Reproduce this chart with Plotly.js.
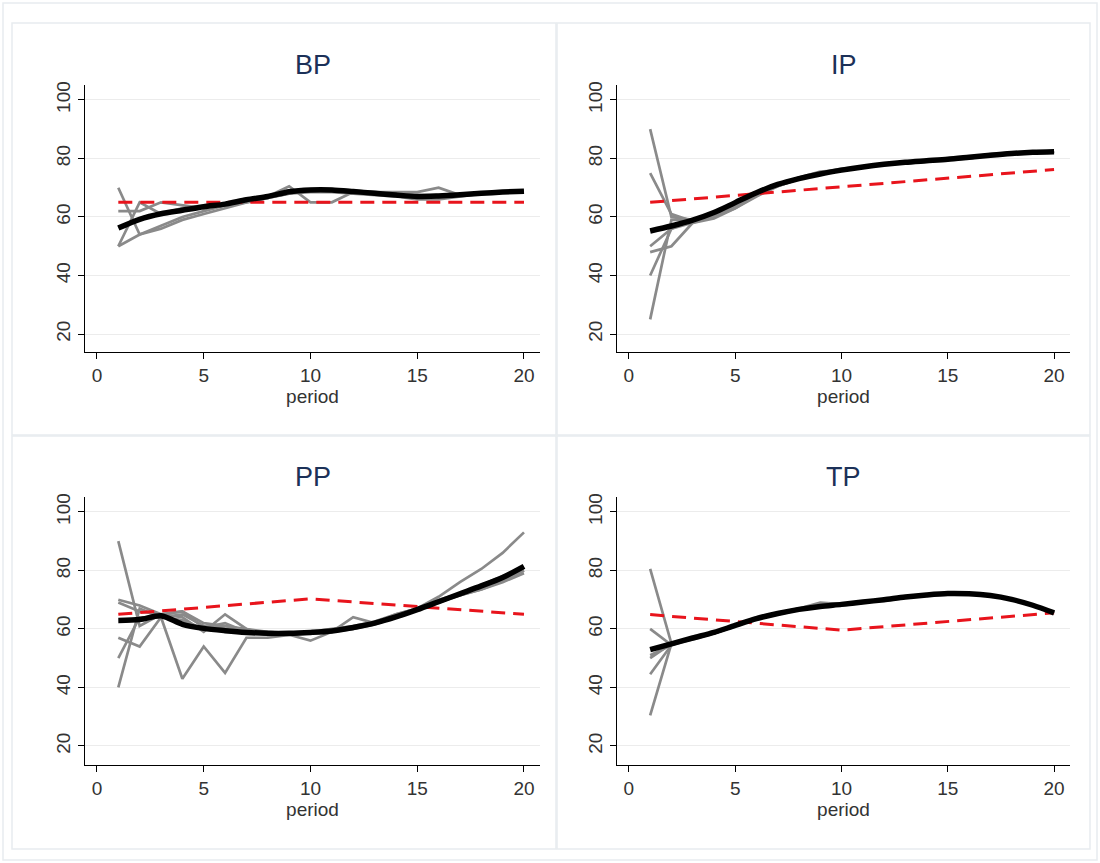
<!DOCTYPE html>
<html>
<head>
<meta charset="utf-8">
<script src="https://cdn.plot.ly/plotly-3.0.1.min.js"></script>
<style>html,body{margin:0;padding:0;background:#fff}#chart{width:1100px;height:863px}</style>
</head>
<body>
<div id="chart"></div>
<script>
const periods = [1,2,3,4,5,6,7,8,9,10,11,12,13,14,15,16,17,18,19,20];
const predPeriods = [1,10,20];
const panelNames = ["BP","IP","PP","TP"];
const xTickVals = [0,5,10,15,20];
const yTickVals = [20,40,60,80,100];

// BP
const bpGrey1 = [70,54,57,60,62,64,66,67,70.5,65,65,68.5,68.5,68.5,68.5,70,67.5,68,68.5,68.8];
const bpGrey2 = [62,62,65,64,63,64,65,66.5,68,69.5,69.5,69,68.5,68,67.5,67.5,67.5,68,68.5,68.8];
const bpGrey3 = [50,65,61,63,64,64.5,66,67,68.5,69,69,68.5,68,67,66,66,67,68,68.5,68.7];
const bpGrey4 = [50,54,56,59,61,63,65,66.5,68,68.5,68.5,68,67.5,67,66.5,67,67.5,68,68.5,68.7];
const bpMean = [56.2,59.2,61.1,62.3,63.5,64.4,65.9,67,68.6,69.2,69.2,68.7,68.1,67.5,67,67.2,67.6,68.1,68.5,68.8];
const bpPred = [65,65,65];

// IP
const ipGrey1 = [90,60,59,60,63,67,70.5,73,75,76,77,78,78.5,79,79.5,80.5,81,81.8,82,82.3];
const ipGrey2 = [75,61,58.5,61,64,68,71,73.5,75,76,77,78,79,79,80,80.5,81,82,82,82.3];
const ipGrey3 = [48,50,58,60,64,68,71,73,75,76.5,77,78,78.5,79,79.5,80,81,81.5,82,82.5];
const ipGrey4 = [50,56,58,59.5,63,67.5,70.5,73,75,76,77,78,79,79.5,79.5,80,81,82,82,82];
const ipGrey5 = [40,56,59,61,65,68,71,73.5,75.5,76,77,78,78.5,79,79.5,80.5,81.5,82,82,82.3];
const ipGrey6 = [25,59,59,60,64,68,71,73,75,76,77,78,79,79,80,80.5,81,81.5,82,82.3];
const ipMean = [55.2,56.9,58.9,61.5,64.9,68.3,71.1,73.1,74.7,76,77.1,78,78.7,79.2,79.7,80.4,81.1,81.7,82.1,82.3];
const ipPred = [65,70.3,76.2];

// PP
const ppGrey1 = [90,61,65,66,62,61,60,59,58.5,59,59.5,60.5,62,64,66.5,69.5,72,74.5,77.5,81];
const ppGrey2 = [57,54,64,43,54,45,57,57,58,56,59,64,62,65,67,69,71.5,73.5,76,79];
const ppGrey3 = [70,68,65,64,59,65,60,58,58.5,59,60,61,62.5,65,67,71,76,80.5,86,93];
const ppGrey4 = [69,66,65,66,60.5,62,59,58,58,58.5,59,60,62,64,67,70,72,74,77,80];
const ppGrey5 = [40,67,64,65,61,60,59,58.5,58,59,59.5,60,61.5,64,66.5,69.5,71.5,73.5,76.5,80];
const ppGrey6 = [50,64,64,63,60,61,59.5,58,58.5,59,59,60.5,62,64.5,67,69.5,72,75,78,81];
const ppMean = [62.9,63.2,64.5,61.6,60.2,59.4,58.8,58.5,58.5,58.8,59.3,60.5,62,64.1,66.6,69.3,72,74.7,77.6,81.4];
const ppPred = [65,70.3,65];

// TP
const tpGrey1 = [80.5,55,57,58.5,61,63.5,65.5,67,69,68.5,69,70,71,71.5,72,72,71.5,70,68,65.5];
const tpGrey2 = [60,54.5,57,58.5,61,64,65.5,67,68,68,69,70,71,71.7,72.2,72.2,71.5,70.3,68.3,65.7];
const tpGrey3 = [51,54.5,56.5,58.5,61,63.5,65,66.5,67.5,68.3,69.3,70,71,71.7,72,72,71.5,70,68,65.3];
const tpGrey4 = [50,55,57,58.8,61.3,63.7,65.4,66.8,67.7,68.3,69.2,70,70.9,71.7,72.2,72,71.5,70,68,65.5];
const tpGrey5 = [44.5,54.5,57,58.5,61,63.5,65.3,66.8,67.5,68.3,69,70,70.8,71.7,72.3,72,71.5,70,68,65.5];
const tpGrey6 = [30.5,55,57,58.7,61,63.7,65.4,67,67.8,68.3,69.2,70,70.9,71.6,72.2,72.1,71.5,70.1,68,65.6];
const tpMean = [52.9,54.9,56.9,58.8,61.2,63.5,65.3,66.7,67.7,68.4,69.2,70,70.9,71.6,72.1,72,71.4,70.1,68.1,65.5];
const tpPred = [64.9,59.6,65.5];

const panels = [
  {greys:[bpGrey1,bpGrey2,bpGrey3,bpGrey4], mean:bpMean, pred:bpPred},
  {greys:[ipGrey1,ipGrey2,ipGrey3,ipGrey4,ipGrey5,ipGrey6], mean:ipMean, pred:ipPred},
  {greys:[ppGrey1,ppGrey2,ppGrey3,ppGrey4,ppGrey5,ppGrey6], mean:ppMean, pred:ppPred},
  {greys:[tpGrey1,tpGrey2,tpGrey3,tpGrey4,tpGrey5,tpGrey6], mean:tpMean, pred:tpPred}
];

const W = 1100, H = 863;
const px = v => v / W;
const py = v => 1 - v / H;
// plot-area pixel boxes [left, right, top, bottom]
const boxes = [
  [85, 540, 85, 352],
  [617, 1070, 85, 352],
  [85, 540, 497, 765],
  [617, 1070, 497, 765]
];

const traces = [];
const layout = {
  width: W, height: H,
  margin: {l:0, r:0, t:0, b:0},
  paper_bgcolor: '#ffffff',
  plot_bgcolor: '#ffffff',
  showlegend: false,
  font: {family: 'Liberation Sans, Arial, sans-serif', color: '#333333'},
  annotations: [],
  shapes: []
};

panels.forEach((p, i) => {
  const n = i + 1;
  const xa = 'x' + (n === 1 ? '' : n);
  const ya = 'y' + (n === 1 ? '' : n);
  const b = boxes[i];
  p.greys.forEach(g => {
    traces.push({x: periods, y: g, xaxis: xa, yaxis: ya, mode: 'lines', type: 'scatter',
      line: {color: '#8a8a8a', width: 2.7}, hoverinfo: 'skip'});
  });
  traces.push({x: predPeriods, y: p.pred, xaxis: xa, yaxis: ya, mode: 'lines', type: 'scatter',
    line: {color: '#e8141c', width: 3, dash: '14px,8px'}, hoverinfo: 'skip'});
  traces.push({x: periods, y: p.mean, xaxis: xa, yaxis: ya, mode: 'lines', type: 'scatter',
    line: {color: '#000000', width: 5.5, shape: 'spline', smoothing: 0.8}, hoverinfo: 'skip'});

  const axCommon = {
    showline: true, linecolor: '#000000', linewidth: 1,
    ticks: 'outside', ticklen: 6, tickcolor: '#000000', tickwidth: 1,
    tickfont: {size: 19, color: '#333333'},
    zeroline: false
  };
  layout['xaxis' + (n === 1 ? '' : n)] = Object.assign({}, axCommon, {
    anchor: ya, domain: [px(b[0]), px(b[1])],
    range: [-0.56, 20.75], tickvals: xTickVals, showgrid: false,
    title: {text: 'period', font: {size: 19, color: '#333333'}, standoff: 2}
  });
  layout['yaxis' + (n === 1 ? '' : n)] = Object.assign({}, axCommon, {
    anchor: xa, domain: [py(b[3]), py(b[2])],
    range: [i < 2 ? 13.85 : 13.5, 105.1], tickvals: yTickVals,
    tickangle: -90, showgrid: true, gridcolor: '#ececec', gridwidth: 1
  });
  layout.annotations.push({
    text: panelNames[i], xref: 'paper', yref: 'paper',
    x: px((b[0] + b[1]) / 2), y: py(i < 2 ? 65 : 477),
    xanchor: 'center', yanchor: 'middle', showarrow: false,
    font: {size: 27, color: '#1c3158'}
  });
});

// panel frames
const frameColor = '#e8ecef';
const rects = [
  [3, 1097, 3, 860],
  [12, 556, 23, 435],
  [557, 1090, 23, 435],
  [12, 556, 436, 849],
  [557, 1090, 436, 849]
];
rects.forEach(r => {
  layout.shapes.push({type: 'rect', xref: 'paper', yref: 'paper',
    x0: px(r[0]), x1: px(r[1]), y0: py(r[3]), y1: py(r[2]),
    line: {color: frameColor, width: 1.5}, layer: 'below'});
});

Plotly.newPlot('chart', traces, layout, {staticPlot: true, displayModeBar: false});
</script>
</body>
</html>
